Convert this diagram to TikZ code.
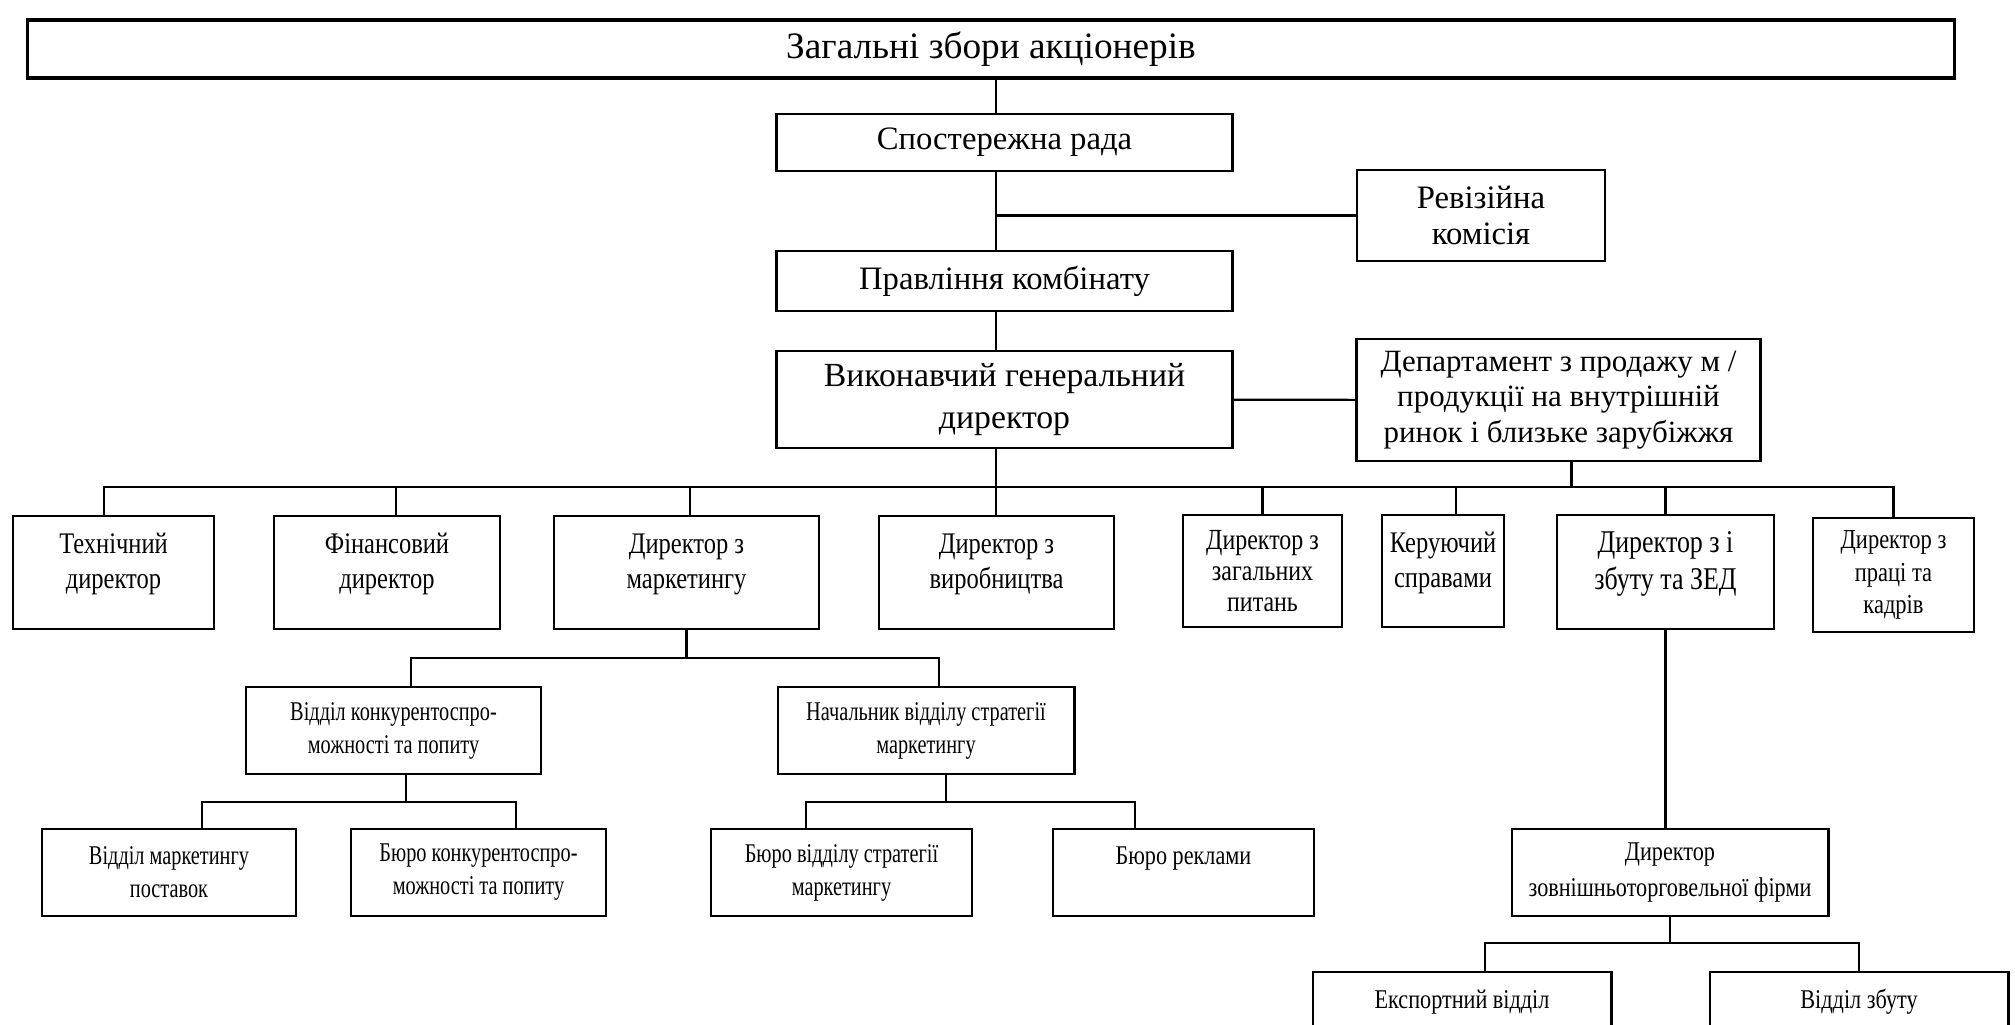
\documentclass[tikz,border=0pt]{standalone}
\usepackage{fontspec}
\setmainfont{Liberation Serif}
\newfontfamily\narrowfont[FakeStretch=0.82]{Liberation Serif}
\newfontfamily\condfont[FakeStretch=0.75]{Liberation Serif}
\usepackage{tikz}
\usetikzlibrary{positioning}

\tikzset{
  box/.style={draw, line width=0.8pt, align=center, inner sep=0pt},
  topbox/.style={box, line width=1pt, font=\fontsize{10.6}{12}\selectfont},
  upper/.style={box, font=\fontsize{9.3}{10.5}\selectfont},
  lower/.style={box, font=\narrowfont\fontsize{8.5}{10}\selectfont},
  small/.style={box, font=\narrowfont\fontsize{7.7}{9.4}\selectfont},
  cond/.style={box, font=\condfont\fontsize{7.7}{9.4}\selectfont},
  lift/.style={text depth=0.23cm},
  link/.style={line width=0.6pt},
}

\begin{document}
\begin{tikzpicture}[x=0.01cm,y=-0.01cm]
  \useasboundingbox (0,0) rectangle (2015,1025);
  % top levels
  \node[topbox,minimum width=19.26cm,minimum height=0.58cm] (zz) at (991,49) {Загальні збори акціонерів};
  \node[upper,minimum width=4.55cm,minimum height=0.57cm] (sr) at (1004.5,142.5) {Спостережна рада};
  \node[upper,minimum width=2.48cm,minimum height=0.91cm] (rk) at (1481,215.5) {Ревізійна\\комісія};
  \node[upper,minimum width=4.55cm,minimum height=0.60cm] (pk) at (1004.5,281) {Правління комбінату};
  \node[upper,minimum width=4.55cm,minimum height=0.97cm,font=\fontsize{9.6}{12.2}\selectfont] (vgd) at (1004.5,399.5) {Виконавчий генеральний\\директор};
  \node[upper,minimum width=4.03cm,minimum height=1.22cm,font=\fontsize{8.8}{10}\selectfont] (dep) at (1558.5,400) {Департамент з продажу м /\\продукції на внутрішній\\ринок і близьке зарубіжжя};
  % directors
  \node[lower,lift,minimum width=2.01cm,minimum height=1.13cm] (td) at (113.5,572.5) {Технічний\\директор};
  \node[lower,lift,minimum width=2.26cm,minimum height=1.13cm] (fd) at (387,572.5) {Фінансовий\\директор};
  \node[lower,lift,minimum width=2.65cm,minimum height=1.13cm] (dm) at (686.5,572.5) {Директор з\\маркетингу};
  \node[lower,lift,minimum width=2.35cm,minimum height=1.13cm] (dv) at (996.5,572.5) {Директор з\\виробництва};
  \node[lower,minimum width=1.59cm,minimum height=1.12cm,font=\narrowfont\fontsize{8.3}{8.8}\selectfont] (dzp) at (1262.5,571) {Директор з\\загальних\\питань};
  \node[lower,lift,minimum width=1.22cm,minimum height=1.12cm] (ks) at (1443,571) {Керуючий\\справами};
  \node[lower,lift,minimum width=2.17cm,minimum height=1.14cm,font=\narrowfont\fontsize{9}{10.5}\selectfont] (dzz) at (1665.5,572) {Директор з і\\збуту та ЗЕД};
  \node[lower,minimum width=1.61cm,minimum height=1.14cm,font=\narrowfont\fontsize{7.8}{9.2}\selectfont] (dpk) at (1893.5,575) {Директор з\\праці та\\кадрів};
  % marketing
  \node[cond,minimum width=2.95cm,minimum height=0.87cm] (vk) at (393.5,730.5) {Відділ конкурентоспро-\\можності та попиту};
  \node[cond,minimum width=2.96cm,minimum height=0.87cm] (nv) at (926,730.5) {Начальник відділу стратегії\\маркетингу};
  \node[cond,minimum width=2.54cm,minimum height=0.87cm] (vmp) at (169,872.5) {Відділ маркетингу\\поставок};
  \node[cond,minimum width=2.55cm,minimum height=0.87cm] (bkp) at (478.5,872.5) {Бюро конкурентоспро-\\можності та попиту};
  \node[cond,minimum width=2.61cm,minimum height=0.87cm] (bvs) at (841.5,872.5) {Бюро відділу стратегії\\маркетингу};
  \node[small,minimum width=2.61cm,minimum height=0.87cm] (br) at (1183.5,872.5) {Бюро реклами\\\mbox{}};
  % foreign trade
  \node[small,minimum width=3.16cm,minimum height=0.87cm,font=\narrowfont\fontsize{7.7}{10.4}\selectfont] (zf) at (1670,872.5) {Директор\\зовнішньоторговельної фірми};
  \node[small,minimum width=2.98cm,minimum height=0.87cm] (ek) at (1462,1015.5) {Експортний відділ\\\mbox{}};
  \node[small,minimum width=2.98cm,minimum height=0.87cm] (vz) at (1859,1015.5) {Відділ збуту\\\mbox{}};

  \coordinate (tr) at ([xshift=-0.085cm]sr.south);
  \coordinate (b1) at (0,487);
  \coordinate (b2) at (0,658);
  \coordinate (b3) at (0,802);
  \coordinate (b4) at (0,943);

  \draw[link] (tr |- zz.south) -- (tr |- sr.north);
  \draw[link] (tr) -- (tr |- pk.north);
  \draw[link] (tr |- pk.south) -- (tr |- vgd.north);
  \draw[link] (tr |- rk.west) -- (rk.west);
  \draw[link] (vgd) -- (dep);
  \draw[link] (tr |- vgd.south) -- (tr |- dv.north);
  \draw[link] ([xshift=0.13cm]dep.south) -- ([xshift=0.13cm]dep.south |- b1);
  \foreach \n/\s in {td/-0.095,fd/0.09,dm/0.035,dzp/0,ks/0.13,dzz/0,dpk/0}
    \draw[link] (tr |- b1) -| ([xshift=\s cm]\n.north);
  % marketing branch
  \draw[link] (dm.south) -- (dm.south |- b2) -| ([xshift=0.175cm]vk.north);
  \draw[link] (dm.south |- b2) -| ([xshift=0.13cm]nv.north);
  \draw[link] ([xshift=0.125cm]vk.south) -- ([xshift=0.125cm]vk.south |- b3) -| ([xshift=0.33cm]vmp.north);
  \draw[link] ([xshift=0.125cm]vk.south |- b3) -| ([xshift=0.375cm]bkp.north);
  \draw[link] ([xshift=0.2cm]nv.south) -- ([xshift=0.2cm]nv.south |- b3) -| ([xshift=-0.355cm]bvs.north);
  \draw[link] ([xshift=0.2cm]nv.south |- b3) -| ([xshift=-0.485cm]br.north);
  % sales branch
  \draw[link] (dzz.south) -- (dzz.south |- zf.north);
  \draw[link] (zf.south) -- (zf.south |- b4) -| ([xshift=0.23cm]ek.north);
  \draw[link] (zf.south |- b4) -| (vz.north);
\end{tikzpicture}
\end{document}
